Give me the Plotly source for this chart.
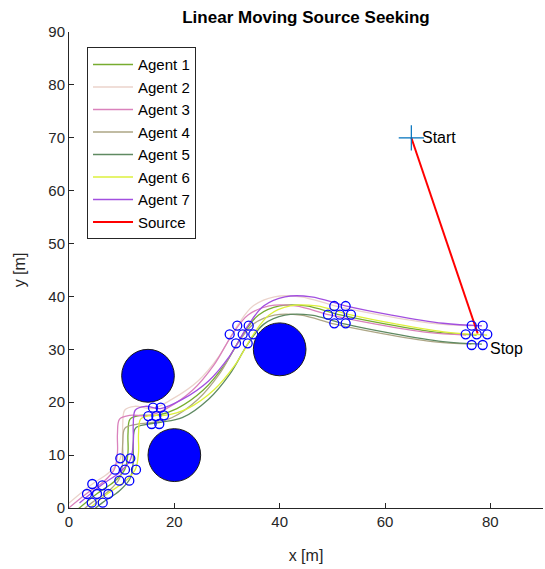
import plotly.graph_objects as go

# ---------------- data ----------------
agent_names = ["Agent 1", "Agent 2", "Agent 3", "Agent 4", "Agent 5", "Agent 6", "Agent 7"]
agent_colors = ["#77AC30", "#EBD3CB", "#DA82BC", "#ADA685", "#5F8A62", "#DDF03C", "#A24FE0"]

a1_x = [1.0, 5.3, 8.6, 10.6, 11.2, 11.2, 11.6, 13.5, 16.6, 20.5, 25.5, 29.5, 33.0, 36.0, 40.0, 45.0, 51.5, 60.0, 70.0, 77.4]
a1_y = [-0.8, 2.7, 5.0, 7.3, 10.5, 14.0, 16.8, 17.5, 17.5, 18.8, 22.3, 27.0, 32.8, 36.5, 38.2, 38.2, 36.5, 34.8, 33.2, 32.7]

a2_x = [0.0, 4.3, 7.6, 9.6, 10.2, 10.2, 10.6, 12.5, 15.85, 19.5, 24.5, 28.5, 32.0, 35.0, 39.0, 44.0, 50.5, 59.0, 69.0, 76.4]
a2_y = [0.93, 4.43, 6.73, 9.03, 12.23, 15.73, 18.53, 19.23, 18.8, 20.53, 24.03, 28.73, 34.53, 38.23, 39.93, 39.93, 38.23, 36.53, 34.93, 34.43]

a3_x = [-1.0, 3.3, 6.6, 8.6, 9.2, 9.2, 9.6, 11.5, 15.1, 18.5, 23.5, 27.5, 31.0, 34.0, 38.0, 43.0, 49.5, 58.0, 68.0, 75.4]
a3_y = [-0.8, 2.7, 5.0, 7.3, 10.5, 14.0, 16.8, 17.5, 17.5, 18.8, 22.3, 27.0, 32.8, 36.5, 38.2, 38.2, 36.5, 34.8, 33.2, 32.7]

a4_x = [0.0, 4.3, 7.6, 9.6, 10.2, 10.2, 10.6, 12.5, 15.85, 19.5, 24.5, 28.5, 32.0, 35.0, 39.0, 44.0, 50.5, 59.0, 69.0, 76.4]
a4_y = [-2.53, 0.97, 3.27, 5.57, 8.77, 12.27, 15.07, 15.77, 16.2, 17.07, 20.57, 25.27, 31.07, 34.77, 36.47, 36.47, 34.77, 33.07, 31.47, 30.97]

a5_x = [2.0, 6.3, 9.6, 11.6, 12.2, 12.2, 12.6, 14.5, 17.35, 21.5, 26.5, 30.5, 34.0, 37.0, 41.0, 46.0, 52.5, 61.0, 71.0, 78.4]
a5_y = [-2.53, 0.97, 3.27, 5.57, 8.77, 12.27, 15.07, 15.77, 16.2, 17.07, 20.57, 25.27, 31.07, 34.77, 36.47, 36.47, 34.77, 33.07, 31.47, 30.97]

a6_x = [3.0, 7.3, 10.6, 12.6, 13.2, 13.2, 13.6, 15.5, 18.1, 22.5, 27.5, 31.5, 35.0, 38.0, 42.0, 47.0, 53.5, 62.0, 72.0, 79.4]
a6_y = [-0.8, 2.7, 5.0, 7.3, 10.5, 14.0, 16.8, 17.5, 17.5, 18.8, 22.3, 27.0, 32.8, 36.5, 38.2, 38.2, 36.5, 34.8, 33.2, 32.7]

a7_x = [2.0, 6.3, 9.6, 11.6, 12.2, 12.2, 12.6, 14.5, 17.35, 21.5, 26.5, 30.5, 34.0, 37.0, 41.0, 46.0, 52.5, 61.0, 71.0, 78.4]
a7_y = [0.93, 4.43, 6.73, 9.03, 12.23, 15.73, 18.53, 19.23, 18.8, 20.53, 24.03, 28.73, 34.53, 38.23, 39.93, 39.93, 38.23, 36.53, 34.93, 34.43]

agents_x = [a1_x, a2_x, a3_x, a4_x, a5_x, a6_x, a7_x]
agents_y = [a1_y, a2_y, a3_y, a4_y, a5_y, a6_y, a7_y]

source_x = [65.0, 77.6]
source_y = [70.0, 33.0]

# formation snapshots (agent positions drawn as open circles)
form_x = [4.42, 6.32, 3.42, 5.32, 7.46, 4.31, 6.40,
          9.74, 11.64, 8.73, 10.63, 12.72, 9.55, 11.45,
          15.95, 17.41, 15.06, 16.58, 18.04, 15.70, 17.14,
          31.95, 34.12, 30.51, 32.98, 34.99, 31.71, 33.93,
          50.37, 52.53, 49.17, 51.45, 53.54, 50.37, 52.53,
          76.46, 78.55, 75.32, 77.41, 79.42, 76.46, 78.55]
form_y = [4.54, 4.29, 2.65, 2.65, 2.65, 1.00, 1.00,
          9.40, 9.40, 7.24, 7.24, 7.24, 5.16, 5.16,
          18.96, 18.96, 17.39, 17.39, 17.53, 15.88, 15.88,
          34.47, 34.47, 32.84, 32.84, 32.84, 31.14, 31.14,
          38.19, 38.19, 36.55, 36.55, 36.55, 34.92, 34.92,
          34.47, 34.47, 32.84, 32.84, 32.84, 30.82, 30.82]

# circular obstacles
obst_cx = [15.0, 20.0, 40.0]
obst_cy = [25.0, 10.0, 30.0]
obst_r = [5.0, 5.0, 5.0]

x_ticks = [0, 20, 40, 60, 80]
y_ticks = [0, 10, 20, 30, 40, 50, 60, 70, 80, 90]

# ---------------- figure ----------------
FONT = "Liberation Sans, Arial, sans-serif"
fig = go.Figure()

for i in range(7):
    fig.add_trace(go.Scatter(
        x=agents_x[i], y=agents_y[i], mode="lines", name=agent_names[i],
        line=dict(color=agent_colors[i], width=1.3, shape="spline", smoothing=1.0),
        legendgroup=f"g{i}",
    ))

fig.add_trace(go.Scatter(
    x=source_x, y=source_y, mode="lines", name="Source",
    line=dict(color="#FF0000", width=2), legendgroup="src",
))

fig.add_trace(go.Scatter(
    x=form_x, y=form_y, mode="markers", showlegend=False,
    marker=dict(symbol="circle-open", size=9, color="#0000FF", line=dict(width=1.3, color="#0000FF")),
))

fig.add_trace(go.Scatter(
    x=[source_x[0]], y=[source_y[0]], mode="markers", showlegend=False,
    marker=dict(symbol="cross-thin-open", size=18, color="#0072BD", line=dict(width=1.2, color="#0072BD")),
))

fig.add_annotation(x=source_x[0] + 1.6, y=source_y[0], text="Start", showarrow=False,
                   xanchor="left", yanchor="middle", font=dict(family=FONT, size=16, color="#000000"))
fig.add_annotation(x=79.6, y=30.1, text="Stop", showarrow=False,
                   xanchor="left", yanchor="middle", font=dict(family=FONT, size=16, color="#000000"))

for cx, cy, r in zip(obst_cx, obst_cy, obst_r):
    fig.add_shape(type="circle", xref="x", yref="y", x0=cx - r, x1=cx + r, y0=cy - r, y1=cy + r,
                  fillcolor="#0000FF", line=dict(color="#1A1A1A", width=1), layer="below")

axis_common = dict(
    showgrid=False, zeroline=False, showline=True, linecolor="#262626", linewidth=1,
    ticks="inside", ticklen=5, tickcolor="#262626", mirror=False,
    tickfont=dict(family=FONT, size=15, color="#262626"),
)

fig.update_layout(
    width=545, height=569,
    margin=dict(l=69, r=2, t=32, b=61),
    paper_bgcolor="white", plot_bgcolor="white",
    title=dict(text="<b>Linear Moving Source Seeking</b>", x=(69 + 237) / 545, xanchor="center",
               y=1 - 17 / 569, yanchor="middle", font=dict(family=FONT, size=17, color="#000000")),
    xaxis=dict(range=[0, 90], tickvals=x_ticks, ticktext=[str(v) for v in x_ticks],
               title=dict(text="x [m]", font=dict(family=FONT, size=16, color="#262626"), standoff=20),
               **axis_common),
    yaxis=dict(range=[0, 90], tickvals=y_ticks, ticktext=[str(v) for v in y_ticks],
               title=dict(text="y [m]", font=dict(family=FONT, size=16, color="#262626"), standoff=18),
               **axis_common),
    legend=dict(x=0.038, y=0.968, xanchor="left", yanchor="top",
                bgcolor="white", bordercolor="#262626", borderwidth=1,
                font=dict(family=FONT, size=15, color="#000000"),
                traceorder="grouped", tracegroupgap=0, itemwidth=40),
    showlegend=True,
)

fig.write_html("out.html")
